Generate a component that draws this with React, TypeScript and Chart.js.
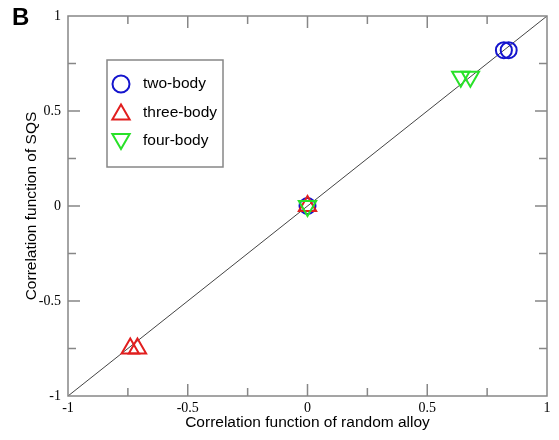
import React, { useEffect, useRef } from 'react';
import { Chart, registerables } from 'chart.js';

Chart.register(...registerables);

// ---- data ----
const seriesLabels = ['two-body', 'three-body', 'four-body'];
const twoBodyX = [0, 0.82, 0.84];
const twoBodyY = [0, 0.82, 0.82];
const threeBodyX = [0, -0.74, -0.71];
const threeBodyY = [0, -0.75, -0.75];
const fourBodyX = [0, 0.64, 0.68];
const fourBodyY = [0, 0.68, 0.68];
const diagonalX = [-1, 1];
const diagonalY = [-1, 1];
const tickValues = [-1, -0.5, 0, 0.5, 1];
const tickLabels = ['-1', '-0.5', '0', '0.5', '1'];
const minorTickValues = [-0.75, -0.25, 0.25, 0.75];
const xTitle = 'Correlation function of random alloy';
const yTitle = 'Correlation function of SQS';
const panelLabel = 'B';

// ---- styles ----
const BLUE = 'rgb(20,20,205)';
const RED = 'rgb(225,30,30)';
const GREEN = 'rgb(40,225,40)';
const FRAME = 'rgb(135,135,135)';
const SANS = '"Liberation Sans", Arial, sans-serif';
const SERIF = '"Liberation Serif", "Times New Roman", serif';

const pts = (xs: number[], ys: number[]) => xs.map((x, i) => ({ x, y: ys[i] }));

function drawMarker(ctx: CanvasRenderingContext2D, style: string, rot: number, r: number, x: number, y: number) {
  ctx.beginPath();
  if (style === 'circle') {
    ctx.arc(x, y, r, 0, Math.PI * 2);
  } else {
    let rad = (rot * Math.PI) / 180;
    ctx.moveTo(x + Math.sin(rad) * r, y - Math.cos(rad) * r);
    rad += (2 * Math.PI) / 3;
    ctx.lineTo(x + Math.sin(rad) * r, y - Math.cos(rad) * r);
    rad += (2 * Math.PI) / 3;
    ctx.lineTo(x + Math.sin(rad) * r, y - Math.cos(rad) * r);
    ctx.closePath();
  }
  ctx.stroke();
}

const framePlugin = {
  id: 'frameTicks',
  afterDraw(chart: any) {
    const { ctx, chartArea: a, scales } = chart;
    ctx.save();
    ctx.strokeStyle = FRAME;
    ctx.lineWidth = 1.5;
    ctx.strokeRect(a.left, a.top, a.right - a.left, a.bottom - a.top);
    const draw = (vals: number[], len: number) => {
      vals.forEach((v) => {
        const x = scales.x.getPixelForValue(v);
        const y = scales.y.getPixelForValue(v);
        ctx.beginPath();
        ctx.moveTo(x, a.bottom); ctx.lineTo(x, a.bottom - len);
        ctx.moveTo(x, a.top); ctx.lineTo(x, a.top + len);
        ctx.moveTo(a.left, y); ctx.lineTo(a.left + len, y);
        ctx.moveTo(a.right, y); ctx.lineTo(a.right - len, y);
        ctx.stroke();
      });
    };
    draw(tickValues.slice(1, -1), 12);
    draw(minorTickValues, 8);
    // panel label
    ctx.fillStyle = '#000';
    ctx.font = 'bold 24px ' + SANS;
    ctx.textBaseline = 'alphabetic';
    ctx.textAlign = 'left';
    ctx.fillText(panelLabel, 12, 25);
    ctx.restore();
  },
};

const legendPlugin = {
  id: 'boxLegend',
  afterDraw(chart: any) {
    const { ctx, chartArea: a } = chart;
    const items = chart.data.datasets.filter((d: any) => d.label);
    const left = a.left + 39;
    const top = a.top + 44;
    const w = 116;
    const rowH = 28.5;
    const h = 107;
    ctx.save();
    ctx.strokeStyle = FRAME;
    ctx.lineWidth = 1.5;
    ctx.strokeRect(left, top, w, h);
    ctx.font = '15.5px ' + SANS;
    ctx.textBaseline = 'middle';
    ctx.textAlign = 'left';
    items.forEach((d: any, i: number) => {
      const cy = top + 24 + i * rowH;
      ctx.strokeStyle = d.borderColor;
      ctx.lineWidth = 2;
      drawMarker(ctx, d.pointStyle, d.rotation || 0, d.pointStyle === 'circle' ? 8.5 : 10, left + 14, cy + (d.pointStyle === 'circle' ? 0 : (d.rotation ? -2 : 2)));
      ctx.fillStyle = '#000';
      ctx.fillText(d.label, left + 36, cy);
    });
    ctx.restore();
  },
};

export default function App() {
  const ref = useRef<HTMLCanvasElement | null>(null);
  useEffect(() => {
    if (!ref.current) return;
    const setTicks = (scale: any) => {
      scale.ticks = tickValues.map((v) => ({ value: v }));
    };
    const chart = new Chart(ref.current, {
      type: 'scatter',
      data: {
        datasets: [
          {
            type: 'line',
            data: pts(diagonalX, diagonalY),
            borderColor: '#444',
            borderWidth: 1,
            pointRadius: 0,
            order: 10,
          } as any,
          {
            label: seriesLabels[0],
            data: pts(twoBodyX, twoBodyY),
            pointStyle: 'circle',
            pointRadius: 8,
            borderColor: BLUE,
            backgroundColor: 'rgba(0,0,0,0)',
            borderWidth: 2,
            order: 3,
          },
          {
            label: seriesLabels[1],
            data: pts(threeBodyX, threeBodyY),
            pointStyle: 'triangle',
            pointRadius: 10,
            borderColor: RED,
            backgroundColor: 'rgba(0,0,0,0)',
            borderWidth: 2,
            order: 2,
          },
          {
            label: seriesLabels[2],
            data: pts(fourBodyX, fourBodyY),
            pointStyle: 'triangle',
            rotation: 180,
            pointRadius: 10,
            borderColor: GREEN,
            backgroundColor: 'rgba(0,0,0,0)',
            borderWidth: 2,
            order: 1,
          } as any,
        ],
      },
      options: {
        animation: false,
        responsive: false,
        devicePixelRatio: 1,
        layout: { padding: { left: 0, top: 16, right: 9, bottom: 0 } },
        plugins: { legend: { display: false }, tooltip: { enabled: false } },
        scales: {
          x: {
            type: 'linear',
            min: -1,
            max: 1,
            afterBuildTicks: setTicks,
            afterFit: (s: any) => { s.height = 44; },
            grid: { display: false, drawTicks: false },
            border: { display: false },
            ticks: {
              autoSkip: false,
              maxRotation: 0,
              padding: 4,
              color: '#000',
              font: { family: SERIF, size: 14 },
              callback: (_v: any, i: number) => tickLabels[i],
            },
            title: {
              display: true,
              text: xTitle,
              color: '#000',
              font: { family: SANS, size: 15.5 },
              padding: { top: 0, bottom: 8 },
            },
          },
          y: {
            type: 'linear',
            min: -1,
            max: 1,
            afterBuildTicks: setTicks,
            afterFit: (s: any) => { s.width = 68; },
            grid: { display: false, drawTicks: false },
            border: { display: false },
            ticks: {
              autoSkip: false,
              padding: 7,
              color: '#000',
              font: { family: SERIF, size: 14 },
              callback: (_v: any, i: number) => tickLabels[i],
            },
            title: {
              display: true,
              text: yTitle,
              color: '#000',
              font: { family: SANS, size: 15.5 },
              padding: { top: 22, bottom: 0 },
            },
          },
        },
      },
      plugins: [framePlugin, legendPlugin],
    });
    return () => chart.destroy();
  }, []);
  return (
    <div style={{ position: 'absolute', left: 0, top: 0, width: 559, height: 440, background: '#fff' }}>
      <canvas ref={ref} width={559} height={440} />
    </div>
  );
}
